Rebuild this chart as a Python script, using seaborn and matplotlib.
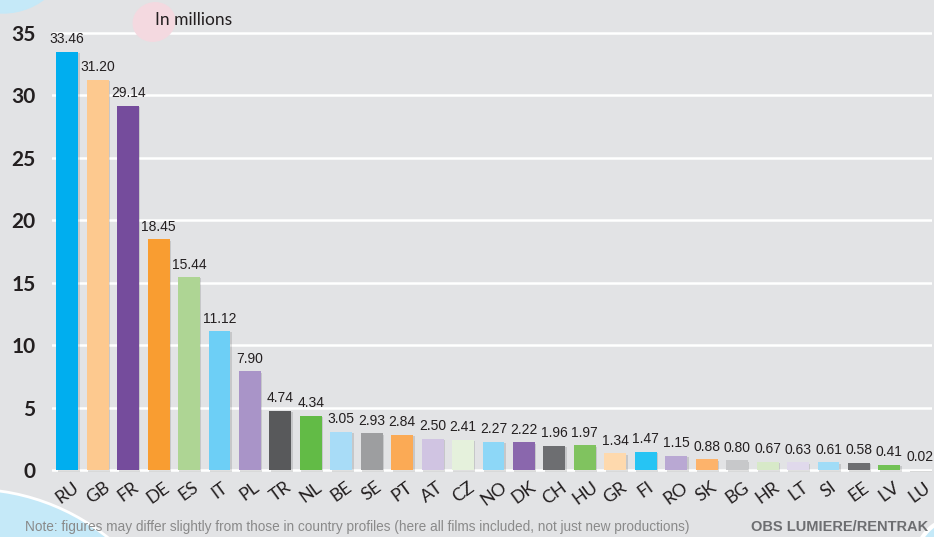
import matplotlib.pyplot as plt
import matplotlib.patches as mpatches
import matplotlib.patheffects as pe
import pandas as pd
import seaborn as sns

countries = ['RU', 'GB', 'FR', 'DE', 'ES', 'IT', 'PL', 'TR', 'NL', 'BE', 'SE', 'PT', 'AT', 'CZ', 'NO',
             'DK', 'CH', 'HU', 'GR', 'FI', 'RO', 'SK', 'BG', 'HR', 'LT', 'SI', 'EE', 'LV', 'LU']
admissions = [33.46, 31.20, 29.14, 18.45, 15.44, 11.12, 7.90, 4.74, 4.34, 3.05, 2.93, 2.84, 2.50, 2.41, 2.27,
              2.22, 1.96, 1.97, 1.34, 1.47, 1.15, 0.88, 0.80, 0.67, 0.63, 0.61, 0.58, 0.41, 0.02]
colors = ['#00aeef', '#fdc98f', '#754c9c', '#f99d31', '#aed594', '#6dcff6', '#a994c8', '#58595b', '#62bb46',
          '#a8dcf7', '#9d9ea0', '#fbaa55', '#d0c4e2', '#e5f1dc', '#8dd7f7', '#8a67ad', '#6d6e71', '#80c35f',
          '#fed9ad', '#26c4f4', '#b9a8d3', '#fdb36b', '#c7c8ca', '#d7e9c8', '#e0d9ec', '#a0dcf7', '#6d6e71',
          '#72c155', '#27aae1']
yticks = [0, 5, 10, 15, 20, 25, 30, 35]

df = pd.DataFrame({'country': countries, 'admissions': admissions})

bg = '#e2e3e5'
sns.set_theme(style="white")
plt.rcParams['font.family'] = ['Lato', 'DejaVu Sans']

fig = plt.figure(figsize=(9.34, 5.37), dpi=100, facecolor=bg)

# decorative blobs, positions in inches from bottom-left
deco = fig.dpi_scale_trans
fig.patches.append(mpatches.Circle((0.03, 5.92), 0.68, color='#c5e9f8', transform=deco, zorder=0))
fig.patches.append(mpatches.Ellipse((1.54, 5.15), 0.42, 0.38, angle=20, color='#f4d9e0', transform=deco, zorder=0))
fig.patches.append(mpatches.Circle((-0.3, -1.72), 2.2, facecolor='#c5e9f8', edgecolor='white', lw=2,
                                   transform=deco, zorder=0))
fig.patches.append(mpatches.Circle((9.6, -0.25), 0.45, facecolor='#c5e9f8', edgecolor='white', lw=3,
                                   transform=deco, zorder=0))

ax = fig.add_axes([52 / 934, 65 / 537, 880 / 934, 472 / 537])
ax.set_facecolor('none')

sns.barplot(data=df, x='country', y='admissions', hue='country', palette=colors, legend=False,
            width=0.72, saturation=1, linewidth=0, ax=ax, zorder=3)

shadow = [pe.SimplePatchShadow(offset=(1, -1), shadow_rgbFace='#000000', alpha=0.12), pe.Normal()]
for bar in ax.patches:
    bar.set_path_effects(shadow)

for i, v in enumerate(admissions):
    ax.annotate(f"{v:.2f}", (i, v), xytext=(0, 4), textcoords='offset points', ha='center', va='bottom',
                fontsize=10, color='#231f20', family=['Liberation Sans', 'DejaVu Sans'])

for y in yticks:
    ax.axhline(y, color='white', lw=1.8, zorder=1)

ax.set_xlim(-0.5, 28.4)
ax.set_ylim(-0.15, 37.6)
ax.set_yticks(yticks)
ax.set_yticklabels([str(t) for t in yticks], fontsize=15, fontweight='bold', color='#231f20')
ax.tick_params(axis='y', length=0, pad=12)
ax.tick_params(axis='x', length=0, pad=5)
for lab in ax.get_xticklabels():
    lab.set_rotation(36)
    lab.set_ha('center')
    lab.set_fontsize(13)
    lab.set_color('#231f20')
ax.set_xlabel('')
ax.set_ylabel('')
sns.despine(ax=ax, left=True, bottom=True)

fig.text(155 / 934, 1 - 20 / 537, 'In millions', fontsize=12.5, color='#231f20', va='center')
fig.text(25 / 934, 1 - 527 / 537, 'Note: figures may differ slightly from those in country profiles '
         '(here all films included, not just new productions)', fontsize=9.8, color='#8a8a8a',
         va='center', family=['Liberation Sans', 'DejaVu Sans'])
fig.text(928 / 934, 1 - 527 / 537, 'OBS LUMIERE/RENTRAK', fontsize=10.5, color='#6d6e71', fontweight='bold',
         va='center', ha='right', family=['Liberation Sans', 'DejaVu Sans'])

fig.savefig('out.png', dpi=100, facecolor=bg)
